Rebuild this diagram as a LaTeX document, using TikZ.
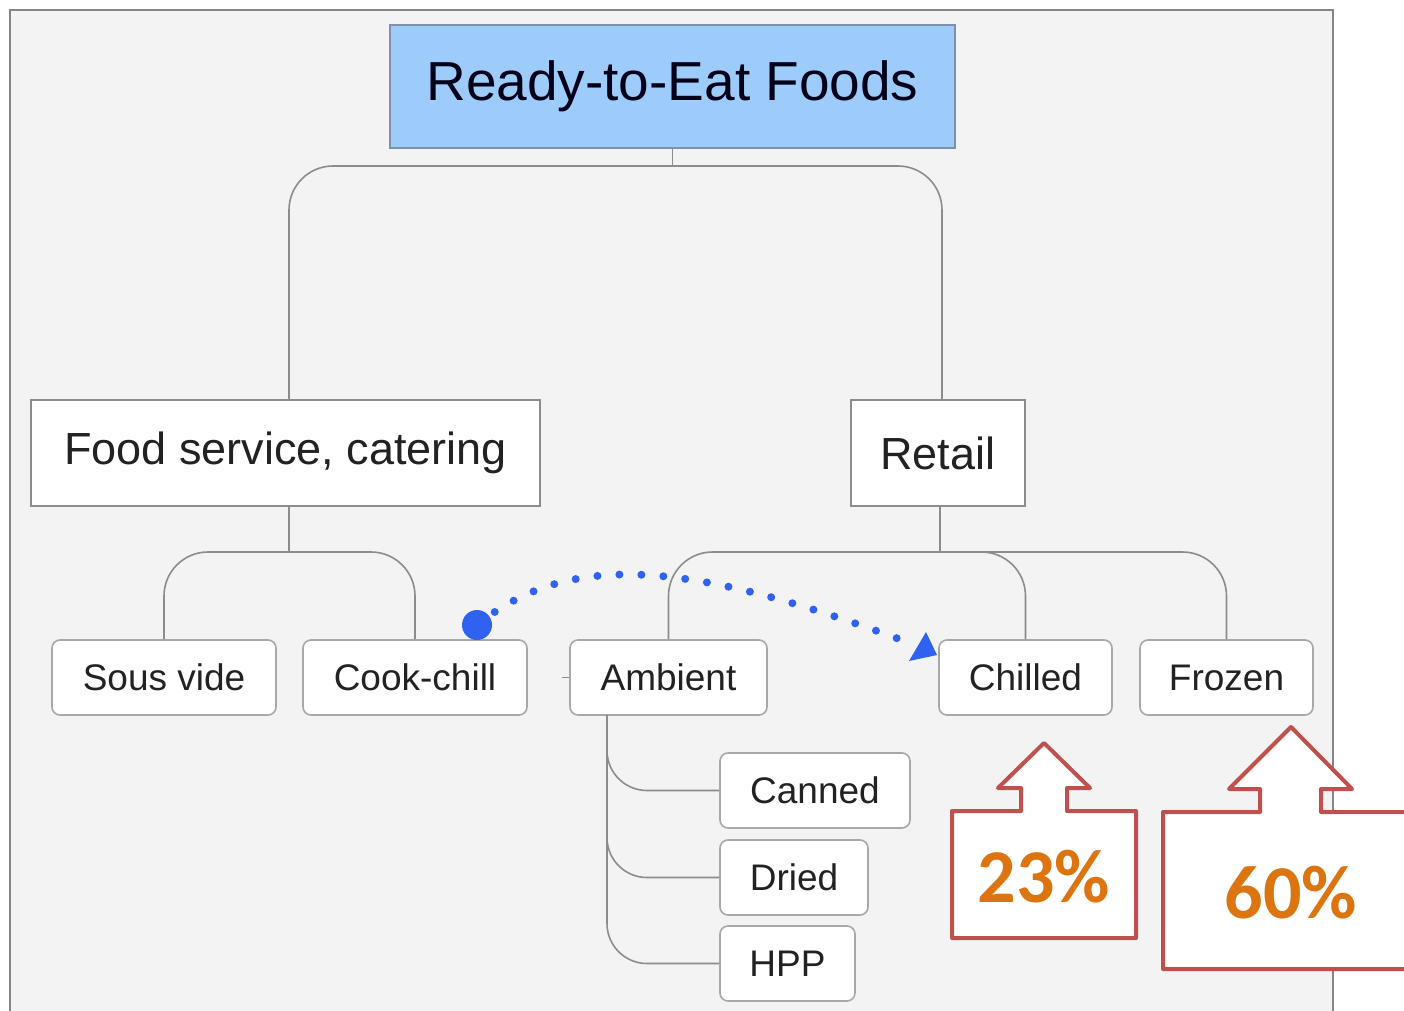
\documentclass[tikz,border=0pt]{standalone}
\usepackage{fontspec}
\setmainfont{Liberation Sans}
\newfontfamily\calib{Carlito}
\usetikzlibrary{arrows.meta}
\definecolor{bgc}{HTML}{F3F3F3}
\definecolor{framec}{HTML}{858585}
\definecolor{titlefill}{HTML}{9DCBFA}
\definecolor{titledraw}{HTML}{7D91AA}
\definecolor{linec}{HTML}{8C8C8C}
\definecolor{boxdraw}{HTML}{A8A8A8}
\definecolor{dotblue}{HTML}{2F62F0}
\definecolor{calred}{HTML}{C0504D}
\definecolor{pctorange}{HTML}{DC7410}
\definecolor{txt}{HTML}{222222}
\tikzset{
  titlebox/.style={draw=titledraw, line width=1pt, fill=titlefill, text=black!90!blue, font=\fontsize{27.5}{30}\selectfont, inner sep=0pt},
  levelbox/.style={draw=linec, line width=0.8pt, fill=white, text=txt, font=\fontsize{22.5}{25}\selectfont, inner sep=0pt, minimum height=53pt},
  leafbox/.style={draw=boxdraw, line width=0.8pt, fill=white, rounded corners=4pt, text=txt, font=\fontsize{18.5}{21}\selectfont, inner sep=0pt, minimum height=37.5pt},
  conn/.style={draw=linec, line width=0.8pt, rounded corners=22pt},
  callout/.style={draw=calred, line width=2pt, fill=white, line join=round},
  pct/.style={text=pctorange, font=\calib\bfseries\fontsize{38}{40}\selectfont, inner sep=0pt},
  dotline/.style={draw=dotblue, line width=4pt, line cap=round, dash pattern=on 0pt off 11pt}
}
\begin{document}
\begin{tikzpicture}[x=0.5pt,y=-0.5pt]
\useasboundingbox (0,0) rectangle (1404,1011);
\clip (0,0) rectangle (1404,1011);
\fill[white] (0,0) rectangle (1404,1011);
\draw[fill=bgc, draw=framec, line width=1pt] (10,10) rectangle (1333,1030);

% nodes
\node[titlebox, minimum width=282.5pt, minimum height=61.5pt] (title) at (672.5,86.5) {Ready-to-Eat Foods};
\node[levelbox, minimum width=254.5pt] (food) at (285.5,453) {Food service, catering};
\node[levelbox, minimum width=87pt] (retail) at (938,453) {Retail};

\node[leafbox, minimum width=112pt] (sous) at (164,677.5) {Sous vide};
\node[leafbox, minimum width=112pt] (cook) at (415,677.5) {Cook-chill};
\node[leafbox, minimum width=98.5pt] (ambient) at (668.5,677.5) {Ambient};
\node[leafbox, minimum width=86.5pt] (chilled) at (1025.5,677.5) {Chilled};
\node[leafbox, minimum width=86.5pt] (frozen) at (1226.5,677.5) {Frozen};

\node[leafbox, minimum width=95pt] (canned) at (815,790.5) {Canned};
\node[leafbox, minimum width=74pt] (dried) at (794,877.5) {Dried};
\node[leafbox, minimum width=67.5pt] (hpp) at (787.5,963.5) {HPP};

% connectors
\coordinate (topbar) at (672.5,166);
\coordinate (fbar) at (289,552);
\coordinate (rbar) at (940,552);
\coordinate (astem) at (607,715);
\coordinate (atick) at (562,677.5);

\draw[linec, line width=0.8pt] (title.south) -- (topbar);
\draw[conn] ([xshift=1.75pt]food.north) |- (topbar) -| ([xshift=2pt]retail.north);

\draw[linec, line width=0.8pt] ([xshift=1.75pt]food.south) -- (fbar);
\draw[conn] (sous.north) |- (fbar) -| (cook.north);

\draw[linec, line width=0.8pt] ([xshift=1pt]retail.south) -- (rbar);
\draw[conn] (ambient.north) |- (rbar) -| (frozen.north);
\draw[conn] (rbar) -| (chilled.north);

\draw[linec, line width=0.8pt] (ambient.west) -- (atick);
\draw[conn, rounded corners=20pt] (astem) |- (canned.west);
\draw[conn, rounded corners=20pt] (astem) |- (dried.west);
\draw[conn, rounded corners=20pt] (astem) |- (hpp.west);

% blue dotted arrow
\coordinate (dotstart) at (477,625);
\coordinate (dotend) at (937,655);
\fill[dotblue] (dotstart) circle (7.5pt);
\draw[dotline] (dotstart) .. controls (570,550) and (690,560) .. (915,645);
\fill[dotblue] (dotend) -- (909,661) -- (926,632) -- cycle;

% callouts
\draw[callout] (952,938) -- (952,811) -- (1021,811) -- (1021,788) -- (998,788) -- (1044,743) -- (1090,788) -- (1067,788) -- (1067,811) -- (1136,811) -- (1136,938) -- cycle;
\node[pct] (p23) at (1044,877) {23\%};
\draw[callout] (1163,969) -- (1163,812) -- (1260,812) -- (1260,789) -- (1229,789) -- (1291,727) -- (1352,789) -- (1321,789) -- (1321,812) -- (1430,812) -- (1430,969) -- cycle;
\node[pct] (p60) at (1291,893) {60\%};
\end{tikzpicture}
\end{document}
